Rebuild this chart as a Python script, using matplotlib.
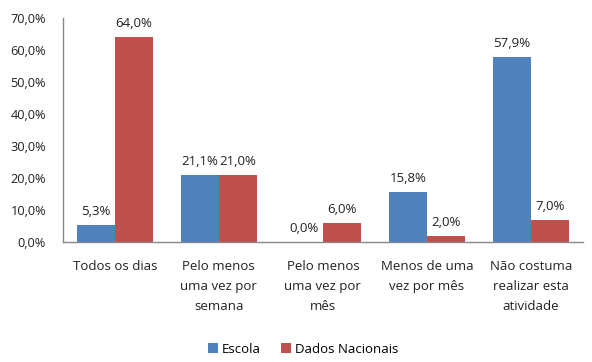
import numpy as np
import matplotlib.pyplot as plt

categories = ["Todos os dias", "Pelo menos\numa vez por\nsemana", "Pelo menos\numa vez por\nmês",
              "Menos de uma\nvez por mês", "Não costuma\nrealizar esta\natividade"]
escola = [5.3, 21.1, 0.0, 15.8, 57.9]
nacionais = [64.0, 21.0, 6.0, 2.0, 7.0]
series_names = ["Escola", "Dados Nacionais"]

blue = "#4F81BD"
red = "#C0504D"
plt.rcParams['font.family'] = ['Open Sans', 'DejaVu Sans']
fs = 9.5

fig = plt.figure(figsize=(5.92, 3.62), dpi=100)
ax = fig.add_axes([0.106, 0.331, 0.879, 0.619])

x = np.arange(len(categories))
w = 0.365
b1 = ax.bar(x - w / 2, escola, w, color=blue, label=series_names[0])
b2 = ax.bar(x + w / 2, nacionais, w, color=red, label=series_names[1])

def fmt(v):
    return f"{v:.1f}%".replace(".", ",")

for bars, vals in [(b1, escola), (b2, nacionais)]:
    for r, v in zip(bars, vals):
        ax.annotate(fmt(v), (r.get_x() + r.get_width() / 2, v), xytext=(0, 5),
                    textcoords="offset points", ha="center", va="bottom",
                    fontsize=fs, color="#222222")

ax.set_xlim(-0.5, len(categories) - 0.5)
ax.set_ylim(0, 70)
ax.set_yticks(np.arange(0, 71, 10))
ax.set_yticklabels([fmt(t) for t in np.arange(0, 71, 10)], fontsize=9.2, color="#222222")
ax.set_xticks(x)
ax.set_xticklabels(categories, fontsize=fs, color="#222222", linespacing=1.7, va="top")
ax.tick_params(axis="both", length=0)
ax.tick_params(axis="x", pad=13)
ax.tick_params(axis="y", pad=12)

for s in ["top", "right"]:
    ax.spines[s].set_visible(False)
for s in ["left", "bottom"]:
    ax.spines[s].set_color("#888888")
    ax.spines[s].set_linewidth(1)

fig.legend(handles=[b1, b2], loc="center", bbox_to_anchor=(0.512, 0.035), ncol=2,
           frameon=False, fontsize=fs, handlelength=0.8, handleheight=0.8,
           handletextpad=0.3, columnspacing=1.5)

fig.savefig("out.png", dpi=100)
